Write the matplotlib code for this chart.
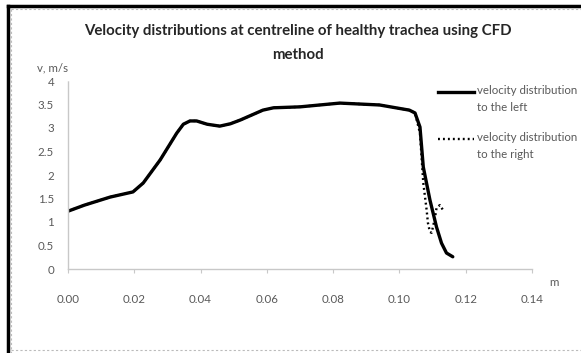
import numpy as np
import matplotlib.pyplot as plt
from matplotlib.lines import Line2D

plt.rcParams['font.family'] = ['Lato', 'DejaVu Sans']

# centreline position, m and velocity, m/s
x_left = [0, 0.005, 0.0127, 0.0196, 0.0227, 0.0278, 0.0328, 0.0348, 0.0368, 0.0388, 0.042,
          0.0458, 0.049, 0.052, 0.0588, 0.062, 0.070, 0.082, 0.094, 0.1030, 0.1047, 0.1062,
          0.1072, 0.1092, 0.1112, 0.1127, 0.1142, 0.1161]
v_left = [1.23, 1.36, 1.53, 1.64, 1.83, 2.32, 2.89, 3.08, 3.15, 3.15, 3.08,
          3.04, 3.09, 3.17, 3.38, 3.43, 3.45, 3.53, 3.49, 3.38, 3.32, 3.02,
          2.17, 1.47, 0.89, 0.55, 0.34, 0.26]

x_right = [0, 0.005, 0.0127, 0.0196, 0.0227, 0.0278, 0.0328, 0.0348, 0.0368, 0.0388, 0.042,
           0.0458, 0.049, 0.052, 0.0588, 0.062, 0.070, 0.082, 0.094, 0.1030, 0.1047, 0.1062,
           0.1072, 0.1082, 0.1086, 0.1092, 0.1097, 0.1101, 0.1107, 0.1112, 0.1122, 0.1131]
v_right = [1.23, 1.36, 1.53, 1.64, 1.83, 2.32, 2.89, 3.08, 3.15, 3.15, 3.08,
           3.04, 3.09, 3.17, 3.38, 3.43, 3.45, 3.53, 3.49, 3.38, 3.32, 2.89,
           1.83, 1.26, 0.98, 0.79, 0.77, 0.89, 1.08, 1.30, 1.36, 1.26]

xticks = [0.00, 0.02, 0.04, 0.06, 0.08, 0.10, 0.12, 0.14]
yticks = [0, 0.5, 1, 1.5, 2, 2.5, 3, 3.5, 4]
ylabels = ['0', '0.5', '1', '1.5', '2', '2.5', '3', '3.5', '4']
series_names = ['velocity distribution\nto the left', 'velocity distribution\nto the right']

gray = '#595959'
dot_style = (0, (0.8, 1.3))
fig = plt.figure(figsize=(5.81, 3.53), dpi=100)
ax = fig.add_axes([68/581, 1-269/353, (532-68)/581, (269-81)/353])

ax.plot(x_left, v_left, color='black', lw=2.4, solid_capstyle='round', solid_joinstyle='round')
ax.plot(x_right, v_right, color='black', lw=1.7, ls=dot_style)

ax.set_xlim(0, 0.14)
ax.set_ylim(0, 4)
ax.set_xticks(xticks)
ax.set_xticklabels(['%.2f' % t for t in xticks])
ax.set_yticks(yticks)
ax.set_yticklabels(ylabels)

for s in ['top', 'right']:
    ax.spines[s].set_visible(False)
for s in ['left', 'bottom']:
    ax.spines[s].set_color('#c8c8c8')
    ax.spines[s].set_linestyle((0, (1, 1)))
    ax.spines[s].set_linewidth(1.0)
ax.tick_params(axis='x', colors='#c8c8c8', length=3, pad=15, labelcolor=gray, labelsize=8.3)
ax.tick_params(axis='y', colors='#c8c8c8', length=0, pad=10, labelcolor=gray, labelsize=8.3)

fig.text(53/581, 1-68/353, 'v, m/s', fontsize=8.3, color=gray, ha='center', va='center')
fig.text(554/581, 1-283/353, 'm', fontsize=8.3, color=gray, ha='center', va='center')

fig.text(298/581, 1-31/353, 'Velocity distributions at centreline of healthy trachea using CFD',
         fontsize=10.8, fontweight='bold', color='#262626', ha='center', va='center')
fig.text(298/581, 1-55/353, 'method',
         fontsize=10.8, fontweight='bold', color='#262626', ha='center', va='center')

# legend drawn to the right of the plot
for lw, ls, name, ly in zip([2.4, 1.7], ['-', dot_style], series_names, [92, 139]):
    fig.add_artist(Line2D([438/581, 474/581], [1-ly/353, 1-ly/353], color='black', lw=lw, ls=ls))
    fig.text(477/581, 1-(ly-7)/353, name, fontsize=8.3, color=gray, ha='left', va='top',
             linespacing=1.65)

# outer frame of the pasted picture
fig.add_artist(Line2D([8/581, 1], [1-6/353, 1-6/353], color='black', lw=2.5))
fig.add_artist(Line2D([8/581, 8/581], [1-6/353, 0], color='black', lw=2.5))
fig.add_artist(Line2D([11/581, 1], [1-9/353, 1-9/353], color='#bbbbbb', lw=0.8, ls=(0, (2, 2))))
fig.add_artist(Line2D([11/581, 11/581], [1-9/353, 0], color='#bbbbbb', lw=0.8, ls=(0, (2, 2))))
fig.add_artist(Line2D([11/581, 1], [3/353, 3/353], color='#bbbbbb', lw=0.8, ls=(0, (2, 2))))

fig.savefig('out.png', dpi=100)
